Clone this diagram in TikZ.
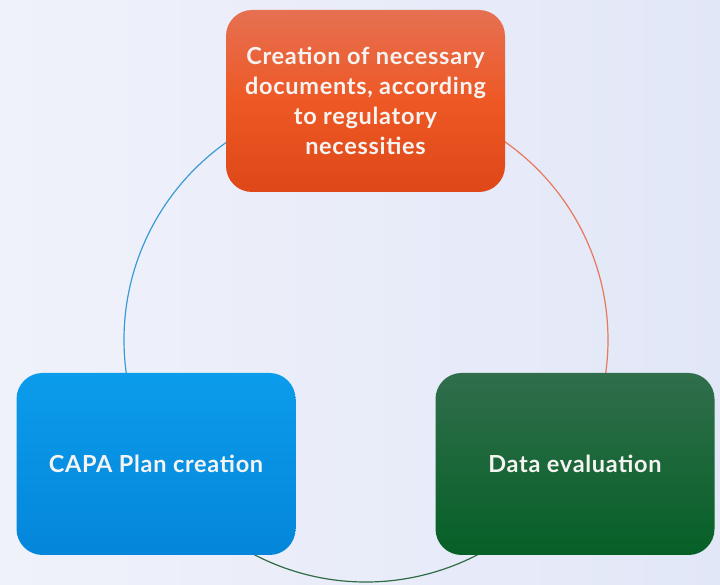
\documentclass[tikz,border=0pt]{standalone}
\usepackage{fontspec}
\setmainfont{Lato}[LetterSpace=3]
\definecolor{bgL}{RGB}{240,242,250}
\definecolor{bgR}{RGB}{226,231,248}
\definecolor{orT}{RGB}{230,112,82}
\definecolor{orM}{RGB}{238,88,36}
\definecolor{orB}{RGB}{222,72,24}
\definecolor{blT}{RGB}{12,156,236}
\definecolor{blB}{RGB}{4,134,218}
\definecolor{grT}{RGB}{48,110,76}
\definecolor{grB}{RGB}{6,96,38}
\definecolor{arcBlue}{RGB}{58,154,217}
\definecolor{arcOr}{RGB}{232,120,90}
\definecolor{arcGr}{RGB}{47,107,69}
\definecolor{txt}{RGB}{246,244,242}
\tikzset{
  box/.style={rounded corners=26pt, minimum width=279pt, minimum height=182pt,
    inner sep=0pt, text=txt, align=center, font=\fontsize{23.5}{30}\selectfont\bfseries},
  orbox/.style={box, top color=orT, bottom color=orB, middle color=orM},
  blbox/.style={box, top color=blT, bottom color=blB},
  grbox/.style={box, top color=grT, bottom color=grB},
  ring/.style={line width=1.2pt}
}
\begin{document}
\begin{tikzpicture}[x=1pt,y=1pt]
\path[left color=bgL, right color=bgR] (0,0) rectangle (720,585);
\useasboundingbox (0,0) rectangle (720,585);
\coordinate (c) at (366,245);
\draw[ring, arcBlue] (c) ++(90:242) arc[start angle=90, end angle=210.6, radius=242];
\draw[ring, arcOr] (c) ++(90:242) arc[start angle=90, end angle=-30.6, radius=242];
\draw[ring, arcGr] (c) ++(-30.6:242) arc[start angle=-30.6, end angle=-149.4, radius=242];
\node[orbox] (top) at (365.5,484) {Creation of necessary\\documents, according\\to regulatory\\necessities};
\node[blbox] (left) at (156,121) {CAPA Plan creation};
\node[grbox] (right) at (575,121) {Data evaluation};
\end{tikzpicture}
\end{document}
